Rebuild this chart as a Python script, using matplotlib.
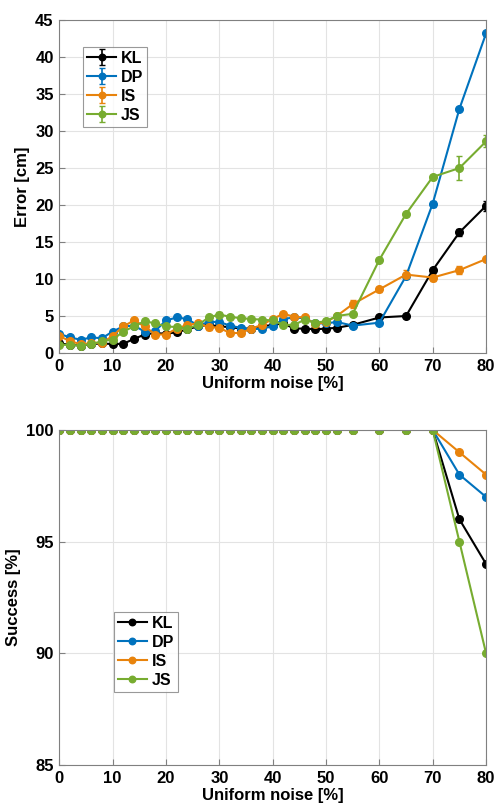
import numpy as np
import matplotlib
matplotlib.use("Agg")
import matplotlib.pyplot as plt

plt.rcParams['font.family'] = ['Liberation Sans', 'DejaVu Sans']
plt.rcParams['font.weight'] = 'bold'

# noise levels [%]
noise = [0, 2, 4, 6, 8, 10, 12, 14, 16, 18, 20, 22, 24, 26, 28, 30, 32, 34, 36,
         38, 40, 42, 44, 46, 48, 50, 52, 55, 60, 65, 70, 75, 80]

# mean error [cm]
err_kl = [1.3, 1.1, 1.0, 1.2, 1.3, 1.2, 1.25, 1.9, 2.5, 2.7, 2.6, 2.8, 3.2, 3.6, 3.8, 3.6,
          3.5, 3.3, 3.3, 3.6, 3.8, 4.0, 3.3, 3.3, 3.2, 3.3, 3.4, 3.8, 4.8, 5.0, 11.2, 16.3, 19.9]
err_dp = [2.6, 2.1, 1.8, 2.1, 2.0, 2.9, 3.6, 3.7, 2.9, 3.0, 4.4, 4.8, 4.6, 3.7, 4.2, 4.2,
          3.7, 3.4, 3.2, 3.3, 3.6, 4.6, 4.8, 4.7, 4.0, 4.0, 4.2, 3.7, 4.1, 10.4, 20.2, 33.0, 43.2]
err_is = [2.3, 1.6, 1.2, 1.3, 1.4, 2.3, 3.6, 4.4, 3.6, 2.5, 2.5, 3.3, 3.8, 4.0, 3.5, 3.4,
          2.7, 2.7, 3.3, 3.8, 4.6, 5.3, 4.9, 4.8, 3.9, 4.2, 5.0, 6.6, 8.6, 10.6, 10.2, 11.2, 12.7]
err_js = [1.1, 1.1, 1.0, 1.2, 1.6, 1.8, 2.9, 3.6, 4.3, 4.0, 3.6, 3.5, 3.3, 3.8, 4.8, 5.2,
          4.9, 4.7, 4.6, 4.5, 4.4, 3.8, 3.8, 4.5, 4.1, 4.3, 5.0, 5.3, 12.6, 18.8, 23.8, 25.0, 28.6]

# error bar half widths [cm]
sd_kl = [0.2] * 29 + [0.3, 0.3, 0.5, 0.7]
sd_dp = [0.2] * 29 + [0.3, 0.4, 0.2, 0.3]
sd_is = [0.2] * 14 + [0.4] + [0.2] * 12 + [0.5, 0.3, 0.6, 0.5, 0.5, 0.2]
sd_js = [0.2] * 15 + [0.4] + [0.2] * 13 + [0.3, 0.3, 1.6, 0.8]

# success rate [%]
succ_kl = [100] * 31 + [96, 94]
succ_dp = [100] * 31 + [98, 97]
succ_is = [100] * 31 + [99, 98]
succ_js = [100] * 31 + [95, 90]

names = ['KL', 'DP', 'IS', 'JS']
colors = ['black', '#0072BD', '#E8830C', '#77AC30']

fig = plt.figure(figsize=(4.97, 8.10), dpi=100)
ax1 = fig.add_axes([0.1193, 0.5642, 0.8587, 0.411])
ax2 = fig.add_axes([0.1193, 0.0556, 0.8587, 0.4136])

for ys, es, name, c in zip([err_kl, err_dp, err_is, err_js],
                           [sd_kl, sd_dp, sd_is, sd_js], names, colors):
    ax1.errorbar(noise, ys, yerr=es, color=c, marker='o', markersize=5.5,
                 linewidth=1.5, capsize=2.5, elinewidth=1.2, label=name)

for ys, name, c in zip([succ_kl, succ_dp, succ_is, succ_js], names, colors):
    ax2.plot(noise, ys, color=c, marker='o', markersize=5.5, linewidth=1.5,
             label=name)

ax1.set_xlim(0, 80)
ax1.set_ylim(0, 45)
ax1.set_yticks(np.arange(0, 46, 5))
ax1.set_ylabel('Error [cm]', fontsize=12, fontweight='bold')

ax2.set_xlim(0, 80)
ax2.set_ylim(85, 100)
ax2.set_yticks([85, 90, 95, 100])
ax2.set_ylabel('Success [%]', fontsize=12, fontweight='bold')

for ax in (ax1, ax2):
    ax.set_xticks(np.arange(0, 81, 10))
    ax.set_xlabel('Uniform noise [%]', fontsize=12, fontweight='bold', labelpad=2)
    ax.grid(True, color='#e3e3e3', linewidth=0.8)
    ax.set_axisbelow(True)
    ax.tick_params(direction='in', length=4, labelsize=12, color='#808080', pad=4)
    for s in ax.spines.values():
        s.set_color('#808080')

leg_kw = dict(fontsize=11.5, fancybox=False, edgecolor='#808080', handlelength=1.8,
              borderpad=0.25, labelspacing=0.25, handletextpad=0.3, borderaxespad=0,
              markerscale=0.85)
leg1 = ax1.legend(loc='upper left', bbox_to_anchor=(0.056, 0.919), **leg_kw)
leg2 = ax2.legend(loc='lower left', bbox_to_anchor=(0.128, 0.218), **leg_kw)
for leg in (leg1, leg2):
    leg.get_frame().set_linewidth(0.8)

fig.savefig('out.png', dpi=100, facecolor='white')
